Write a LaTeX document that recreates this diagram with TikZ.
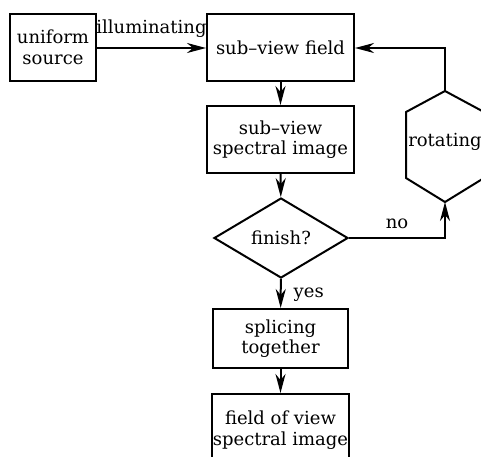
\documentclass[tikz,border=0pt]{standalone}
\usepackage{fontspec}
\setmainfont{DejaVu Serif}
\usetikzlibrary{shapes.geometric,arrows.meta,calc}
\begin{document}
\begin{tikzpicture}[x=1pt,y=-1pt,
  font=\fontsize{18}{20.5}\selectfont,
  line width=2pt,
  box/.style={draw,rectangle,align=center,inner sep=0pt},
  decide/.style={draw,diamond,aspect=1.675,inner sep=0pt,minimum width=134pt,minimum height=80pt},
  flow/.style={-{Stealth[length=19pt,width=10pt,inset=6pt]}},
  lbl/.style={inner sep=0pt}]
\useasboundingbox (0,0) rectangle (481,456);

\node[box,minimum width=86pt,minimum height=67pt] (src) at (53,47.5) {uniform\\source};
\node[box,minimum width=147pt,minimum height=67pt] (field) at (280.5,47.5) {sub--view field};
\node[box,minimum width=147pt,minimum height=67pt] (spec) at (280.5,139.5) {sub--view\\spectral image};
\node[decide] (fin) at (281,238) {finish?};
\node[box,minimum width=135pt,minimum height=59pt] (splice) at (280.5,338.5) {splicing\\together};
\node[box,minimum width=137pt,minimum height=72pt] (fov) at (280.5,430) {field of view\\spectral image};

% hexagonal rotation step
\node[lbl] (rot) at (445,142) {rotating};
\coordinate (hextop) at (445,91);
\coordinate (hexbot) at (445,202);
\draw[line join=miter] (hextop) -- ++(39,21) -- ++(0,66) -- (hexbot) -- ++(-39,-24) -- ++(0,-66) -- cycle;

\draw[flow] (src.east |- 0,48) -- node[lbl,anchor=base,yshift=15pt] (ill) {illuminating} (field.west |- 0,48);
\draw[flow] (field) -- (spec);
\draw[flow] (spec) -- (fin);
\draw[flow] (fin) -- node[lbl,anchor=base west,xshift=12pt,yshift=-4pt] (yes) {yes} (splice);
\draw[flow] (splice) -- (fov);
\draw[flow] (fin.east) -| node[lbl,pos=0.25,anchor=base,yshift=10pt] (no) {no} (hexbot);
\draw[flow] (hextop) |- (field.east |- 0,48);
\end{tikzpicture}
\end{document}
